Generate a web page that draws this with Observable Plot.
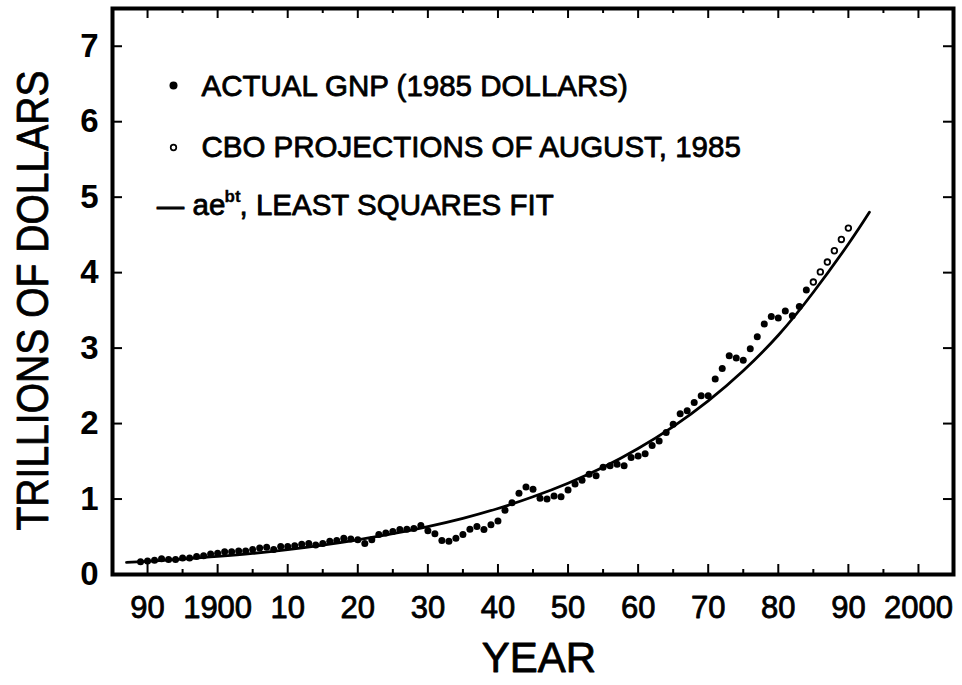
<!DOCTYPE html>
<html><head><meta charset="utf-8">
<script src="https://cdn.jsdelivr.net/npm/d3@7"></script>
<script src="https://cdn.jsdelivr.net/npm/@observablehq/plot@0.6"></script>
<style>body{margin:0;background:#fff;} svg{display:block}</style>
</head><body><div id="chart"></div>
<script>
const years = [1889,1890,1891,1892,1893,1894,1895,1896,1897,1898,1899,
  1900,1901,1902,1903,1904,1905,1906,1907,1908,1909,
  1910,1911,1912,1913,1914,1915,1916,1917,1918,1919,
  1920,1921,1922,1923,1924,1925,1926,1927,1928,1929,
  1930,1931,1932,1933,1934,1935,1936,1937,1938,1939,
  1940,1941,1942,1943,1944,1945,1946,1947,1948,1949,
  1950,1951,1952,1953,1954,1955,1956,1957,1958,1959,
  1960,1961,1962,1963,1964,1965,1966,1967,1968,1969,
  1970,1971,1972,1973,1974,1975,1976,1977,1978,1979,
  1980,1981,1982,1983,1984];
const gnp = [0.17,0.18,0.19,0.21,0.20,0.20,0.22,0.22,0.24,0.25,0.27,
  0.28,0.30,0.30,0.31,0.31,0.33,0.35,0.36,0.33,0.37,
  0.37,0.38,0.40,0.41,0.39,0.41,0.44,0.45,0.48,0.47,
  0.46,0.41,0.46,0.53,0.55,0.57,0.595,0.60,0.61,0.65,
  0.58,0.54,0.45,0.44,0.48,0.53,0.60,0.635,0.595,0.66,
  0.71,0.85,0.95,1.075,1.16,1.13,1.01,1.00,1.04,1.03,
  1.12,1.20,1.25,1.33,1.31,1.42,1.44,1.46,1.44,1.55,
  1.57,1.60,1.71,1.77,1.88,1.99,2.13,2.17,2.28,2.37,
  2.37,2.59,2.73,2.90,2.87,2.84,2.99,3.15,3.32,3.42,
  3.40,3.49,3.43,3.55,3.77];
const projYears = [1985,1986,1987,1988,1989,1990];
const projValues = [3.875,4.01,4.14,4.29,4.44,4.59];
const fitYears = [1887,1890,1895,1900,1905,1910,1915,1920,1925,1930,1935,1940,1945,1950,1955,1960,1965,1970,1975,1980,1985,1990,1993];
const fitValues = [0.16,0.175,0.205,0.24,0.28,0.33,0.39,0.46,0.54,0.635,0.745,0.875,1.03,1.21,1.42,1.67,1.96,2.30,2.70,3.17,3.74,4.38,4.80];
const xMajorTicks = [1890,1900,1910,1920,1930,1940,1950,1960,1970,1980,1990,2000];
const xTickLabels = ["90","1900","10","20","30","40","50","60","70","80","90","2000"];
const xMinorTicks = [1885,1895,1905,1915,1925,1935,1945,1955,1965,1975,1985,1995,2005];
const yTicks = [0,1,2,3,4,5,6,7];
const yTickLabels = ["0","1","2","3","4","5","6","7"];
const legendActual = "ACTUAL GNP (1985 DOLLARS)";
const legendProj = "CBO PROJECTIONS OF AUGUST, 1985";
const legendFitA = "ae";
const legendFitExp = "bt";
const legendFitB = ", LEAST SQUARES FIT";
const xLabel = "YEAR";
const yLabel = "TRILLIONS OF DOLLARS";

const actual = years.map((year, i) => ({year, value: gnp[i]}));
const proj = projYears.map((year, i) => ({year, value: projValues[i]}));
const fit = fitYears.map((year, i) => ({year, value: fitValues[i]}));

const W = 962, H = 685, mL = 112, mR = 9, mT = 8, mB = 111;
const iw = W - mL - mR, ih = H - mT - mB;
const legendText = {frameAnchor: "top-left", textAnchor: "start", lineAnchor: "middle", fontSize: 29.5, fill: "black", stroke: "black", strokeWidth: 0.8};

const svg = Plot.plot({
  width: W, height: H,
  marginLeft: mL, marginRight: mR, marginTop: mT, marginBottom: mB,
  x: {domain: [1885, 2005], axis: null},
  y: {domain: [0, 7.5], axis: null},
  style: {fontFamily: "'Liberation Sans', Arial, sans-serif", background: "white", color: "black"},
  marks: [
    Plot.line(fit, {x: "year", y: "value", curve: "natural", stroke: "black", strokeWidth: 2.8}),
    Plot.dot(actual, {x: "year", y: "value", r: 3.5, fill: "black"}),
    Plot.dot(proj, {x: "year", y: "value", r: 2.8, stroke: "black", strokeWidth: 1.8, fill: "white"}),
    // inner ticks
    Plot.ruleX(xMajorTicks, {x: d => d, insetTop: ih - 10, strokeWidth: 2}),
    Plot.ruleX(xMinorTicks, {x: d => d, insetTop: ih - 5, strokeWidth: 2}),
    Plot.ruleX(xMajorTicks, {x: d => d, insetBottom: ih - 10, strokeWidth: 2}),
    Plot.ruleX(xMinorTicks, {x: d => d, insetBottom: ih - 5, strokeWidth: 2}),
    Plot.ruleY(yTicks, {y: d => d, insetRight: iw - 10, strokeWidth: 2}),
    Plot.ruleY(yTicks, {y: d => d, insetLeft: iw - 10, strokeWidth: 2}),
    Plot.frame({stroke: "black", strokeWidth: 4}),
    Plot.axisX(xMajorTicks, {tickSize: 0, tickPadding: 21, fontSize: 31, label: null,
      textStroke: "black", textStrokeWidth: 0.8,
      tickFormat: d => xTickLabels[xMajorTicks.indexOf(d)]}),
    Plot.axisY(yTicks, {tickSize: 0, tickPadding: 14, fontSize: 33, fontWeight: "bold", label: null,
      tickFormat: d => yTickLabels[yTicks.indexOf(d)]}),
    // legend
    Plot.dot([legendActual], {frameAnchor: "top-left", dx: 61, dy: 77, r: 4, fill: "black"}),
    Plot.text([legendActual], {...legendText, text: d => d, dx: 89, dy: 78}),
    Plot.dot([legendProj], {frameAnchor: "top-left", dx: 61, dy: 139, r: 2.8, stroke: "black", strokeWidth: 1.7, fill: "white"}),
    Plot.text([legendProj], {...legendText, text: d => d, dx: 89, dy: 139.5}),
    Plot.text(["\u2014"], {...legendText, text: d => d, dx: 58, dy: 198, textAnchor: "middle", fontSize: 27, strokeWidth: 1.1}),
    Plot.text([legendFitA], {...legendText, text: d => d, dx: 80, dy: 197}),
    Plot.text([legendFitExp], {...legendText, text: d => d, dx: 112, dy: 188, fontSize: 17, fontWeight: "bold", strokeWidth: 0.3}),
    Plot.text([legendFitB], {...legendText, text: d => d, dx: 127, dy: 197}),
    // axis titles
    Plot.text([xLabel], {text: d => d, frameAnchor: "bottom", dx: 6, dy: 84, textAnchor: "middle", lineAnchor: "middle", fontSize: 42, fill: "black", stroke: "black", strokeWidth: 0.8}),
    Plot.text([yLabel], {text: d => d, frameAnchor: "left", dx: -79, dy: 9, rotate: -90, textAnchor: "middle", lineAnchor: "middle", fontSize: 44, fill: "black", stroke: "black", strokeWidth: 0.8})
  ]
});
d3.select(svg).selectAll("text").filter(function() { return this.textContent === yLabel; })
  .attr("textLength", 460).attr("lengthAdjust", "spacingAndGlyphs");
document.getElementById("chart").appendChild(svg);
</script>
</body></html>
